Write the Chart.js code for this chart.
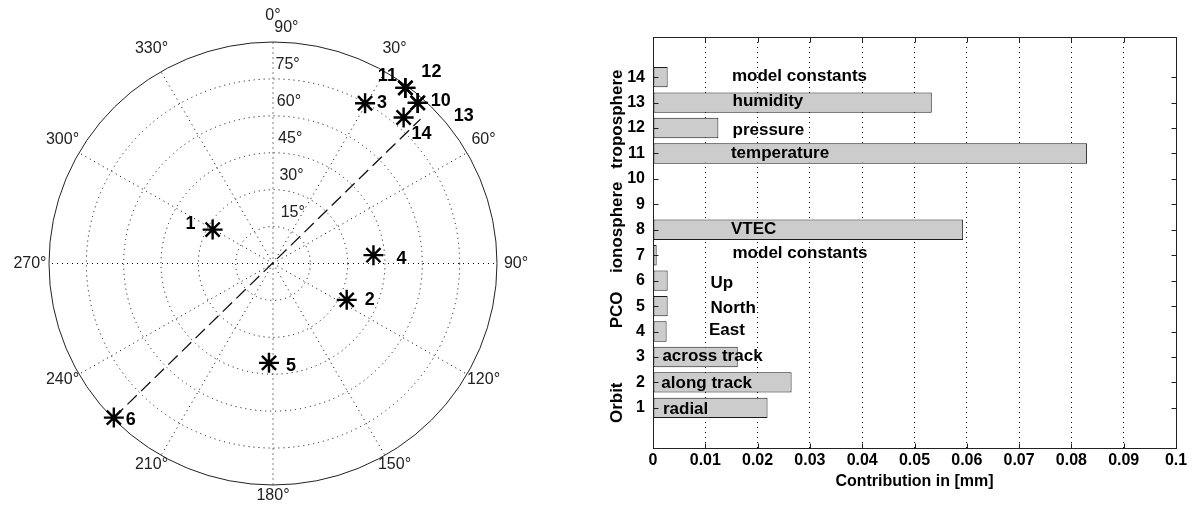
<!DOCTYPE html>
<html>
<head>
<meta charset="utf-8">
<script src="https://cdn.jsdelivr.net/npm/chart.js@4"></script>
<style>
  html, body { margin: 0; padding: 0; background: #fff; }
  #wrap { position: relative; width: 1192px; height: 519px; }
  #polarBox { position: absolute; left: 0; top: 0; width: 560px; height: 519px; }
  #barBox { position: absolute; left: 560px; top: 0; width: 632px; height: 519px; }
</style>
</head>
<body>
<div id="wrap">
  <div id="polarBox"><canvas id="polarChart"></canvas></div>
  <div id="barBox"><canvas id="barChart"></canvas></div>
</div>
<script>
// ---- sky plot data (azimuth clockwise from north, radial value in deg) ----
const satNames   = ["1", "2", "3", "4", "5", "6", "10", "11", "12", "13", "14"];
const satAzimuth = [299.6, 116.5, 29.6, 85.2, 182.3, 225.6, 41.7, 36.7, 36.7, 41.7, 41.5];
const satRadius  = [27.9, 33.1, 74.9, 40.5, 40.4, 89.5, 87.4, 89.0, 89.0, 87.4, 79.2];
const lineAzimuth = [225.6, 45.3];
const lineRadius  = [89.5, 83.4];
const ringValues  = [15, 30, 45, 60, 75, 90];
const spokeAngles = [0, 30, 60, 90, 120, 150, 180, 210, 240, 270, 300, 330];

// ---- bar chart data ----
const paramIndex   = [1, 2, 3, 4, 5, 6, 7, 8, 9, 10, 11, 12, 13, 14];
const contribution = [0.0219, 0.0265, 0.0162, 0.0026, 0.0028, 0.0028, 0.0007,
                      0.0593, 0, 0, 0.0830, 0.0125, 0.0533, 0.0028];
const paramNames   = ["radial", "along track", "across track", "East", "North", "Up",
                      "model constants", "VTEC", "", "", "temperature", "pressure",
                      "humidity", "model constants"];
const groupNames   = ["Orbit", "PCO", "ionosphere", "troposphere"];
const xTickValues  = [0, 0.01, 0.02, 0.03, 0.04, 0.05, 0.06, 0.07, 0.08, 0.09, 0.1];

// label placement (layout only)
const satLabelOffset = [[-22, -6], [23, 0], [17, 0], [28, 4], [22, 3], [17, 2],
                        [23, -2], [-18, -12], [26, -16], [46, 13], [18, 17]];
const nameAnchorX = [0.0019, 0.0016, 0.0018, 0.0107, 0.011, 0.011, 0.0152,
                     0.0149, 0, 0, 0.0149, 0.0152, 0.0152, 0.0151];
const nameAnchorY = [0.94, 1.97, 3.01, 4.05, 4.93, 5.9, 7.06, 8.03, 9, 10,
                     10.99, 11.92, 13.05, 14.05];
const groupCenterY = [1.2, 4.85, 8.1, 12.35];

const FONT = "Arial, 'Liberation Sans', sans-serif";
const toRad = d => d * Math.PI / 180;

// ---------------- polar (sky) plot ----------------
const polarGrid = {
    id: "polarGrid",
    beforeDatasetsDraw(chart) {
        const {ctx} = chart;
        const sx = chart.scales.x, sy = chart.scales.y;
        const cx = sx.getPixelForValue(0), cy = sy.getPixelForValue(0);
        const rMax = ringValues[ringValues.length - 1];
        ctx.save();
        ctx.strokeStyle = "#000";
        ctx.lineWidth = 1;
        ctx.setLineDash([1, 4]);
        ringValues.slice(0, -1).forEach(r => {
            ctx.beginPath();
            ctx.ellipse(cx, cy, sx.getPixelForValue(r) - cx, cy - sy.getPixelForValue(r), 0, 0, Math.PI * 2);
            ctx.stroke();
        });
        spokeAngles.forEach(a => {
            const x = sx.getPixelForValue(rMax * Math.sin(toRad(a)));
            const y = sy.getPixelForValue(rMax * Math.cos(toRad(a)));
            ctx.beginPath();
            ctx.moveTo(cx, cy);
            ctx.lineTo(x, y);
            ctx.stroke();
        });
        ctx.setLineDash([]);
        ctx.strokeStyle = "#222";
        ctx.beginPath();
        ctx.ellipse(cx, cy, sx.getPixelForValue(rMax) - cx, cy - sy.getPixelForValue(rMax), 0, 0, Math.PI * 2);
        ctx.stroke();

        // angle labels
        ctx.fillStyle = "#222";
        ctx.font = "16px " + FONT;
        ctx.textAlign = "center";
        ctx.textBaseline = "middle";
        spokeAngles.forEach(a => {
            const rr = rMax * 1.085;
            const x = sx.getPixelForValue(rr * Math.sin(toRad(a)));
            const y = sy.getPixelForValue(rr * Math.cos(toRad(a))) - 8 * Math.abs(Math.cos(toRad(a)));
            ctx.fillText(a + "\u00b0", x, y);
        });
        // ring labels
        ctx.textAlign = "left";
        ringValues.forEach(r => {
            const rp = cy - sy.getPixelForValue(r);
            ctx.fillText(r + "\u00b0", cx + 9 - 0.035 * rp, cy - rp - 14);
        });
        ctx.restore();
    },
    afterDatasetsDraw(chart) {
        const {ctx} = chart;
        const meta = chart.getDatasetMeta(0);
        ctx.save();
        ctx.fillStyle = "#000";
        ctx.font = "bold 18px " + FONT;
        ctx.textAlign = "center";
        ctx.textBaseline = "middle";
        meta.data.forEach((pt, i) => {
            const off = satLabelOffset[i];
            ctx.fillText(satNames[i], pt.x + off[0], pt.y + off[1]);
        });
        ctx.restore();
    }
};

new Chart(document.getElementById("polarChart"), {
    type: "scatter",
    data: {
        datasets: [
            {
                data: satAzimuth.map((a, i) => ({
                    x: satRadius[i] * Math.sin(toRad(a)),
                    y: satRadius[i] * Math.cos(toRad(a)),
                })),
                pointStyle: "star",
                pointRadius: 10,
                borderWidth: 2.4,
                borderColor: "#000",
                backgroundColor: "#000",
            },
            {
                data: lineAzimuth.map((a, i) => ({
                    x: lineRadius[i] * Math.sin(toRad(a)),
                    y: lineRadius[i] * Math.cos(toRad(a)),
                })),
                showLine: true,
                pointRadius: 0,
                borderColor: "#111",
                borderWidth: 1.3,
                borderDash: [13, 6],
            },
        ],
    },
    options: {
        responsive: true,
        maintainAspectRatio: false,
        animation: false,
        events: [],
        layout: {padding: {left: 49, right: 63, top: 42, bottom: 34}},
        plugins: {legend: {display: false}, tooltip: {enabled: false}},
        scales: {
            x: {type: "linear", min: -90, max: 90, display: false},
            y: {type: "linear", min: -90, max: 90, display: false},
        },
    },
    plugins: [polarGrid],
});

// ---------------- contribution bar chart ----------------
const matlabFrame = {
    id: "matlabFrame",
    afterDatasetsDraw(chart) {
        const {ctx, chartArea: a} = chart;
        const sx = chart.scales.x, sy = chart.scales.y;
        ctx.save();
        ctx.strokeStyle = "#222";
        ctx.lineWidth = 1;
        const L = Math.round(a.left) + 0.5, R = Math.round(a.right) + 0.5;
        const T = Math.round(a.top) + 0.5, B = Math.round(a.bottom) + 0.5;
        ctx.strokeRect(L, T, R - L, B - T);
        ctx.beginPath();
        xTickValues.forEach(v => {
            const x = Math.round(sx.getPixelForValue(v)) + 0.5;
            ctx.moveTo(x, B); ctx.lineTo(x, B - 5);
            ctx.moveTo(x, T); ctx.lineTo(x, T + 5);
        });
        paramIndex.forEach(v => {
            const y = Math.round(sy.getPixelForValue(v)) + 0.5;
            ctx.moveTo(L, y); ctx.lineTo(L + 5, y);
            ctx.moveTo(R, y); ctx.lineTo(R - 5, y);
        });
        ctx.stroke();

        // parameter names
        ctx.fillStyle = "#000";
        ctx.font = "bold 17px " + FONT;
        ctx.textAlign = "left";
        ctx.textBaseline = "middle";
        paramNames.forEach((name, i) => {
            if (!name) return;
            ctx.fillText(name, sx.getPixelForValue(nameAnchorX[i]), sy.getPixelForValue(nameAnchorY[i]));
        });

        // group names along the left side
        ctx.font = "bold 17px " + FONT;
        ctx.textAlign = "center";
        groupNames.forEach((g, i) => {
            ctx.save();
            ctx.translate(57, sy.getPixelForValue(groupCenterY[i]));
            ctx.rotate(-Math.PI / 2);
            ctx.fillText(g, 0, 0);
            ctx.restore();
        });
        ctx.restore();
    }
};

new Chart(document.getElementById("barChart"), {
    type: "bar",
    data: {
        datasets: [{
            data: paramIndex.map((p, i) => ({x: contribution[i], y: p})),
            backgroundColor: "#cccccc",
            borderColor: "#1a1a1a",
            borderWidth: 1,
            borderSkipped: false,
            barPercentage: 0.8,
            categoryPercentage: 1,
        }],
    },
    options: {
        indexAxis: "y",
        responsive: true,
        maintainAspectRatio: false,
        animation: false,
        events: [],
        layout: {padding: {left: 0, right: 16, top: 37, bottom: 28}},
        plugins: {legend: {display: false}, tooltip: {enabled: false}},
        scales: {
            x: {
                type: "linear",
                min: 0,
                max: 0.1,
                afterFit: s => { s.height = 43; },
                afterBuildTicks: s => { s.ticks = xTickValues.map(v => ({value: v})); },
                ticks: {
                    padding: 3,
                    color: "#000",
                    font: {family: FONT, size: 16, weight: "bold"},
                    callback: v => String(Math.round(v * 100) / 100),
                },
                grid: {color: "#000", lineWidth: 1, drawTicks: false},
                border: {display: false, dash: [1, 4]},
                title: {
                    display: true,
                    text: "Contribution in [mm]",
                    color: "#000",
                    font: {family: FONT, size: 16, weight: "bold"},
                    padding: {top: 0, bottom: 0},
                },
            },
            y: {
                type: "linear",
                min: 0,
                max: 15,
                afterFit: s => { s.width = 93; },
                afterBuildTicks: s => { s.ticks = paramIndex.map(v => ({value: v})); },
                ticks: {
                    padding: 8,
                    color: "#000",
                    font: {family: FONT, size: 16, weight: "bold"},
                },
                grid: {display: false, drawTicks: false},
                border: {display: false},
            },
        },
    },
    plugins: [matlabFrame],
});
</script>
</body>
</html>
